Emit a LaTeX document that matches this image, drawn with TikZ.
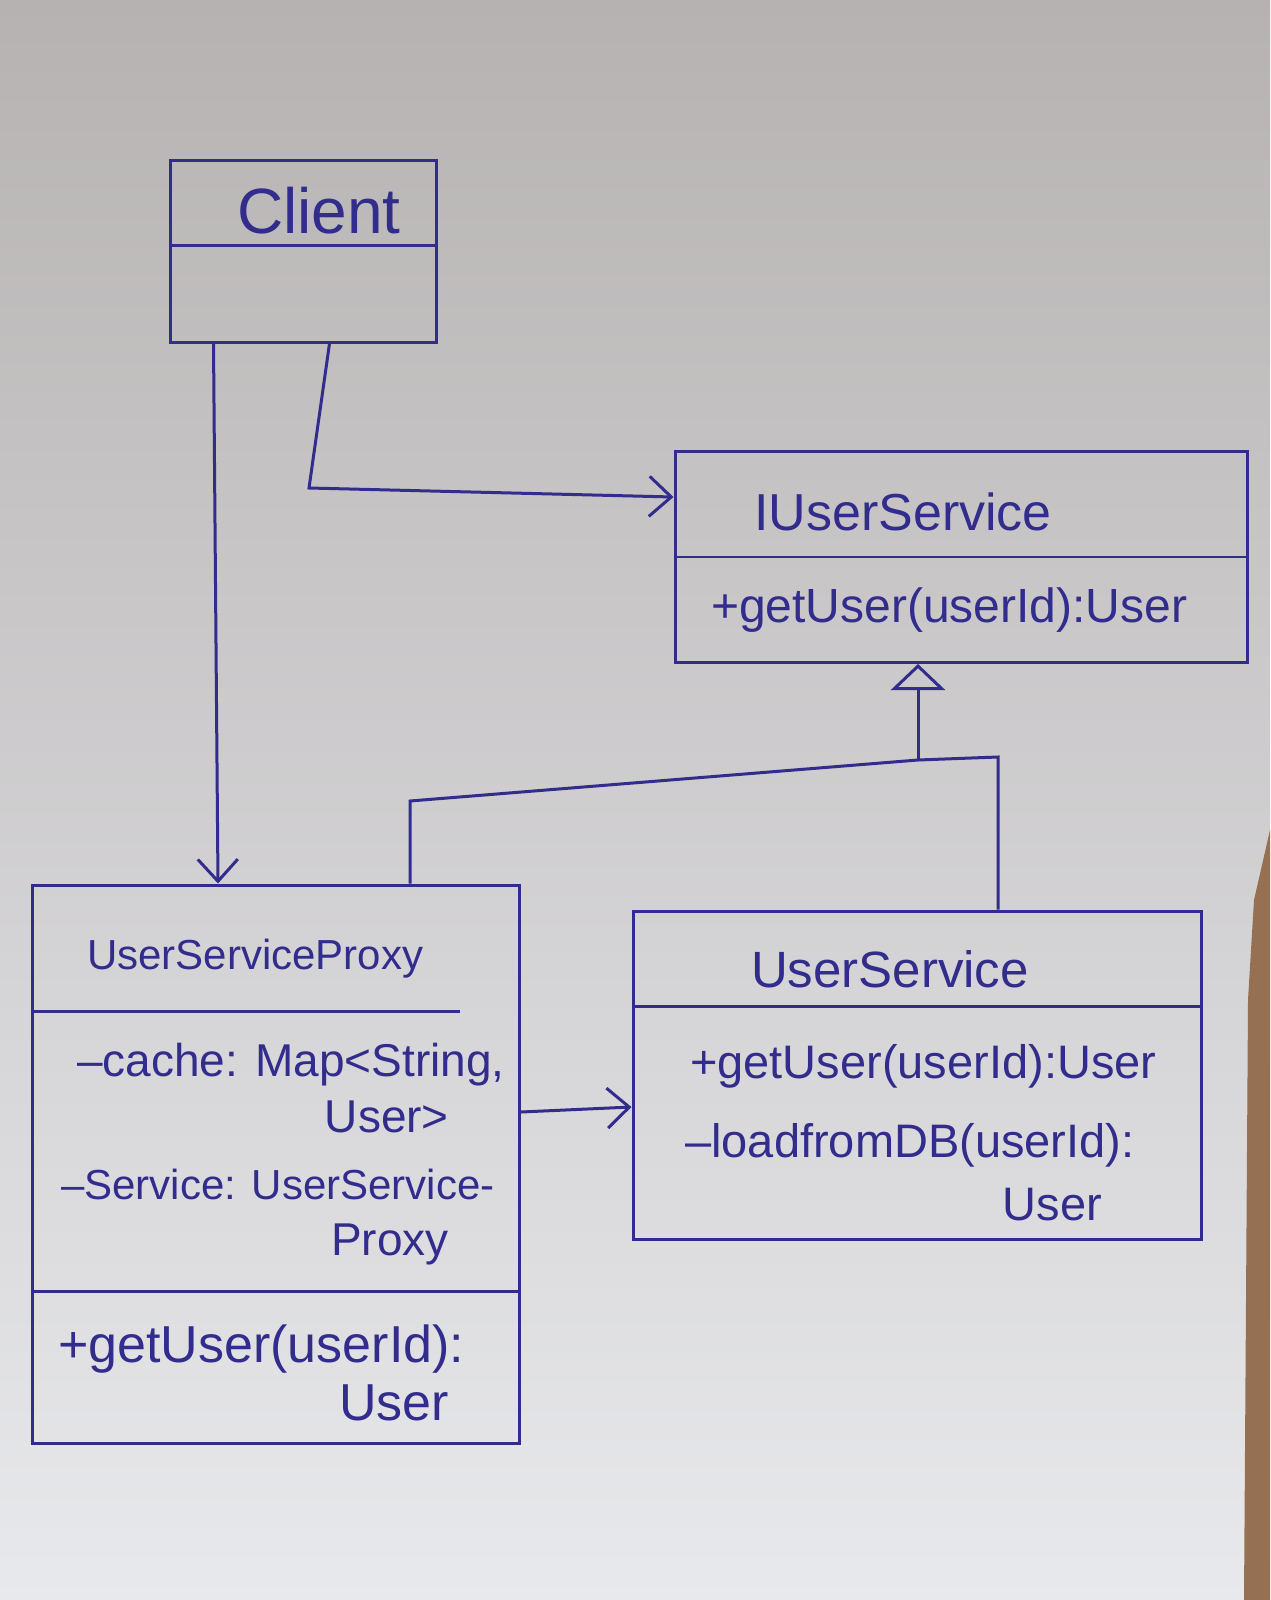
\documentclass[tikz,border=0pt]{standalone}
\usepackage{fontspec}
\setmainfont{Liberation Sans}
\usetikzlibrary{arrows.meta,calc}
\definecolor{ink}{RGB}{50,44,140}
\definecolor{papertop}{RGB}{182,178,178}
\definecolor{papermid}{RGB}{224,225,229}
\definecolor{paperbot}{RGB}{232,233,236}
\definecolor{tablewood}{RGB}{150,112,82}

\begin{document}
\begin{tikzpicture}[x=1pt,y=-1pt]
\tikzset{
	classbox/.style={draw=ink, line width=3pt, rectangle, inner sep=0pt},
	divider/.style={draw=ink, line width=2.5pt},
	link/.style={draw=ink, line width=3pt},
	assoc/.style={link, -{Straight Barb[length=22pt,width=40pt,line width=3pt]}},
	realize/.style={link, -{Triangle[open,length=26pt,width=54pt,line width=3pt]}},
	ttl/.style={text=ink, font=\fontsize{52}{56}\selectfont, inner sep=0pt},
	mbr/.style={text=ink, font=\fontsize{46}{50}\selectfont, inner sep=0pt},
}
\useasboundingbox (0,0) rectangle (1270,1600);
% paper and table edge
\shade[top color=papertop, middle color=papermid, bottom color=paperbot] (0,0) rectangle (1270,1600);
\fill[tablewood] (1270,830) -- (1254,900) -- (1248,1000) -- (1244,1600) -- (1270,1600) -- cycle;

% classes
\node[classbox, minimum width=266pt, minimum height=182pt] (CLIENT) at (303,251) {};
\node[classbox, minimum width=572pt, minimum height=211pt] (IUSRSVC) at (961,557) {};
\node[classbox, minimum width=487pt, minimum height=558pt] (PROXY) at (276,1164) {};
\node[classbox, minimum width=568pt, minimum height=328pt] (USRSVC) at (917,1075) {};

\draw[divider] ($(CLIENT.north west)+(0,87)$) -- ($(CLIENT.north east)+(0,87)$);
\draw[divider] ($(IUSRSVC.north west)+(0,107)$) -- ($(IUSRSVC.north east)+(0,107)$);
\draw[divider] ($(PROXY.north west)+(0,128)$) -- ($(PROXY.north west)+(429,128)$);
\draw[divider] ($(PROXY.north west)+(0,408)$) -- ($(PROXY.north east)+(0,408)$);
\draw[divider] ($(USRSVC.north west)+(0,97)$) -- ($(USRSVC.north east)+(0,97)$);

% labels
\node[ttl, font=\fontsize{64}{68}\selectfont, anchor=base] (CLIENTLBL) at (319,233) {Client};
\node[ttl, anchor=base] (IUSRLBL) at (903,530) {IUserService};
\node[mbr, font=\fontsize{48}{52}\selectfont, anchor=base west] (IGETUSR) at (711,622) {+getUser(userId):User};

\node[ttl, font=\fontsize{42}{46}\selectfont, anchor=base west] (PROXYLBL) at (87,969) {UserServiceProxy};
\node[mbr, anchor=base west] (PCACHE) at (77,1076) {\textendash cache: Map<String,};
\node[mbr, anchor=base east] (PCACHE2) at (449,1132) {User>};
\node[mbr, font=\fontsize{42}{46}\selectfont, anchor=base west] (PSVC) at (61,1199) {\textendash Service: UserService-};
\node[mbr, anchor=base east] (PSVC2) at (449,1255) {Proxy};
\node[mbr, font=\fontsize{52}{56}\selectfont, anchor=base west] (PGETUSR) at (58,1362) {+getUser(userId):};
\node[mbr, font=\fontsize{52}{56}\selectfont, anchor=base east] (PGETUSR2) at (449,1420) {User};

\node[ttl, font=\fontsize{51}{55}\selectfont, anchor=base] (USRLBL) at (890,987) {UserService};
\node[mbr, font=\fontsize{47}{51}\selectfont, anchor=base west] (SGETUSR) at (690,1078) {+getUser(userId):User};
\node[mbr, font=\fontsize{47}{51}\selectfont, anchor=base west] (SLOAD) at (685,1157) {\textendash loadfromDB(userId):};
\node[mbr, font=\fontsize{47}{51}\selectfont, anchor=base east] (SLOAD2) at (1102,1220) {User};

% connectors
\coordinate (CBEND) at (309,488);
\draw[assoc] ([xshift=45pt]CLIENT.south west) -- ([xshift=187pt]PROXY.north west);
\draw[assoc] ([xshift=161pt]CLIENT.south west) -- (CBEND) -- ([yshift=60pt]IUSRSVC.west);
\draw[assoc] ([yshift=52pt]PROXY.east) -- ([yshift=-32pt]USRSVC.west);

\coordinate (HUB) at (918,760);
\coordinate (RKNEE) at (998,757);
\coordinate (LKNEE) at (410,801);
\draw[realize] (HUB) -- (HUB |- IUSRSVC.south);
\draw[link] (HUB) -- (RKNEE) -- (RKNEE |- USRSVC.north);
\draw[link] (HUB) -- (LKNEE) -- (LKNEE |- PROXY.north);

\end{tikzpicture}
\end{document}
